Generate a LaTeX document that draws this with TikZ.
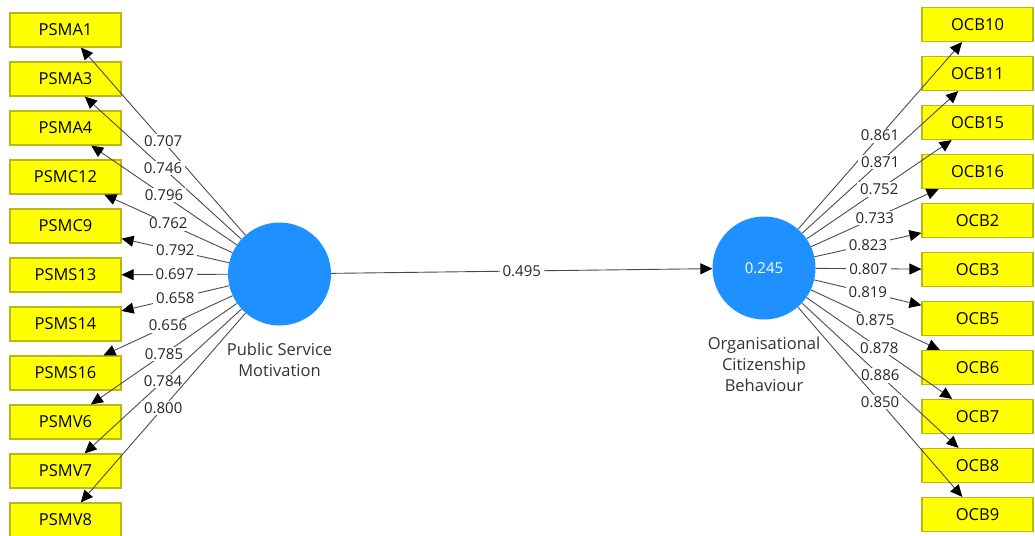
\documentclass[tikz,border=0pt]{standalone}
\usepackage{fontspec}
\setmainfont{Open Sans}
\usepackage{tikz}
\usetikzlibrary{arrows.meta,positioning}
\definecolor{plsyellow}{RGB}{255,255,0}
\definecolor{plsborder}{RGB}{185,185,20}
\definecolor{plsblue}{RGB}{30,144,255}
\definecolor{plsline}{RGB}{75,75,75}
\tikzset{
    %Define standard arrow tip
    >={Triangle[length=12pt,width=11pt,color=black]},
    %Define style for boxes
    indicator/.style={
           rectangle,
           draw=plsborder, line width=1.2pt,
           fill=plsyellow,
           minimum width=111pt,
           minimum height=34pt,
           font=\fontsize{16.5}{19}\selectfont,
           text centered},
    construct/.style={
           circle,
           fill=plsblue,
           minimum size=103pt,
           text=white,
           font=\fontsize{15}{18}\selectfont,
           text centered},
    caption/.style={
           align=center,
           text=black!80,
           font=\fontsize{16.5}{21}\selectfont},
    weight/.style={
           fill=white,
           inner xsep=3pt,
           inner ysep=1.5pt,
           text=black!85,
           font=\fontsize{15}{18}\selectfont},
    % Define arrow style
    load/.style={
           ->,
           draw=plsline,
           line width=0.9pt}
}

\begin{document}
\begin{tikzpicture}[x=1pt,y=-1pt,node distance=13.8pt]
\useasboundingbox (0,0) rectangle (1035,535);
 %nodes
\node[construct](psm) at (279.5,274){};
\node[construct](ocb) at (764,268){0.245};
\node[caption, below=14pt of psm](psmtxt){Public Service\\Motivation};
\node[caption, below=14pt of ocb](ocbtxt){Organisational\\Citizenship\\Behaviour};
 %indicators of public service motivation
\node[indicator](psma1) at (65.5,30){PSMA1};
\node[indicator, below=of psma1](psma3){PSMA3};
\node[indicator, below=of psma3](psma4){PSMA4};
\node[indicator, below=of psma4](psmc12){PSMC12};
\node[indicator, below=of psmc12](psmc9){PSMC9};
\node[indicator, below=of psmc9](psms13){PSMS13};
\node[indicator, below=of psms13](psms14){PSMS14};
\node[indicator, below=of psms14](psms16){PSMS16};
\node[indicator, below=of psms16](psmv6){PSMV6};
\node[indicator, below=of psmv6](psmv7){PSMV7};
\node[indicator, below=of psmv7](psmv8){PSMV8};
 %indicators of citizenship behaviour
\node[indicator](ocb10) at (977.5,24.5){OCB10};
\node[indicator, below=of ocb10](ocb11){OCB11};
\node[indicator, below=of ocb11](ocb15){OCB15};
\node[indicator, below=of ocb15](ocb16){OCB16};
\node[indicator, below=of ocb16](ocb2){OCB2};
\node[indicator, below=of ocb2](ocb3){OCB3};
\node[indicator, below=of ocb3](ocb5){OCB5};
\node[indicator, below=of ocb5](ocb6){OCB6};
\node[indicator, below=of ocb6](ocb7){OCB7};
\node[indicator, below=of ocb7](ocb8){OCB8};
\node[indicator, below=of ocb8](ocb9){OCB9};
 %loadings
 \path[load]
   (psm) edge node[weight]{0.707} (psma1)
   (psm) edge node[weight]{0.746} (psma3)
   (psm) edge node[weight]{0.796} (psma4)
   (psm) edge node[weight]{0.762} (psmc12)
   (psm) edge node[weight]{0.792} (psmc9)
   (psm) edge node[weight]{0.697} (psms13)
   (psm) edge node[weight]{0.658} (psms14)
   (psm) edge node[weight]{0.656} (psms16)
   (psm) edge node[weight]{0.785} (psmv6)
   (psm) edge node[weight]{0.784} (psmv7)
   (psm) edge node[weight]{0.800} (psmv8)
   (ocb) edge node[weight]{0.861} (ocb10)
   (ocb) edge node[weight]{0.871} (ocb11)
   (ocb) edge node[weight]{0.752} (ocb15)
   (ocb) edge node[weight]{0.733} (ocb16)
   (ocb) edge node[weight]{0.823} (ocb2)
   (ocb) edge node[weight]{0.807} (ocb3)
   (ocb) edge node[weight]{0.819} (ocb5)
   (ocb) edge node[weight]{0.875} (ocb6)
   (ocb) edge node[weight]{0.878} (ocb7)
   (ocb) edge node[weight]{0.886} (ocb8)
   (ocb) edge node[weight]{0.850} (ocb9);
 %path coefficient
 \path[load]
   (psm) edge node[weight]{0.495} (ocb);
\end{tikzpicture}
\end{document}
